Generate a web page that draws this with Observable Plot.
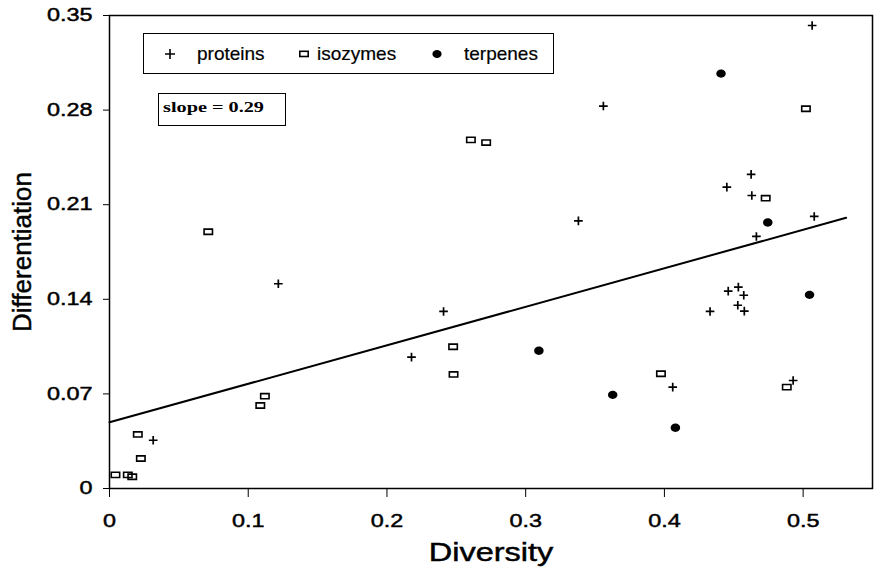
<!DOCTYPE html>
<html>
<head>
<meta charset="utf-8">
<script src="https://cdn.jsdelivr.net/npm/d3@7"></script>
<script src="https://cdn.jsdelivr.net/npm/@observablehq/plot@0.6"></script>
<style>
  body { margin: 0; background: #fff; }
  #wrap { position: relative; width: 878px; height: 569px; font-family: "Liberation Sans", Arial, sans-serif; color: #000; }
  #wrap svg { position: absolute; left: 0; top: 0; }
  #wrap svg text { stroke: #000; stroke-width: 0.45px; }
  .box { position: absolute; border: 1.5px solid #000; box-sizing: border-box; background: #fff; }
  .ltext { position: absolute; font-size: 19px; line-height: 20px; white-space: nowrap; -webkit-text-stroke: 0.2px #000; }
  .lsym { position: absolute; }
  .slope { position: absolute; font-family: "Liberation Serif", "Times New Roman", serif; font-weight: bold; font-size: 15px; line-height: 16px; white-space: nowrap; transform: scaleX(1.35); transform-origin: left center; }
</style>
</head>
<body>
<div id="wrap">
  <div class="box" style="left:143px;top:33px;width:411px;height:41px;"></div>
  <svg class="lsym" style="left:163px;top:47px" width="14" height="14"><path d="M2,7H12M7,2V12" stroke="#000" stroke-width="1.6"/></svg>
  <div class="ltext" style="left:197px;top:44px">proteins</div>
  <svg class="lsym" style="left:297px;top:47px" width="14" height="14"><rect x="2.8" y="4.3" width="8.4" height="5.2" fill="none" stroke="#000" stroke-width="1.6"/></svg>
  <div class="ltext" style="left:317px;top:44px">isozymes</div>
  <svg class="lsym" style="left:430px;top:47px" width="14" height="14"><ellipse cx="7" cy="7" rx="4.6" ry="4" fill="#000"/></svg>
  <div class="ltext" style="left:464px;top:44px">terpenes</div>
  <div class="box" style="left:158px;top:93px;width:128px;height:33px;"></div>
  <div class="slope" style="left:163px;top:99px">slope = 0.29</div>
</div>
<script>
// ---- data ----
const proteinsX = [0.0315, 0.1217, 0.2177, 0.2408, 0.338, 0.356, 0.406, 0.4329, 0.445, 0.446, 0.4533, 0.4572, 0.4529, 0.4576, 0.4625, 0.463, 0.4663, 0.4928, 0.5065, 0.508];
const proteinsY = [0.0357, 0.1515, 0.0972, 0.131, 0.198, 0.283, 0.075, 0.131, 0.223, 0.146, 0.149, 0.143, 0.1356, 0.1312, 0.2324, 0.2168, 0.1865, 0.0799, 0.3426, 0.2013];

const isozymesX = [0.0043, 0.0132, 0.0164, 0.0204, 0.0226, 0.0712, 0.1087, 0.112, 0.2477, 0.248, 0.2605, 0.2715, 0.3975, 0.473, 0.4882, 0.502];
const isozymesY = [0.0101, 0.0101, 0.0087, 0.040, 0.0222, 0.190, 0.0614, 0.0683, 0.1049, 0.0844, 0.258, 0.256, 0.0849, 0.2148, 0.075, 0.281];

const terpenesX = [0.3095, 0.3627, 0.4079, 0.4408, 0.4745, 0.5046];
const terpenesY = [0.1019, 0.0693, 0.0449, 0.307, 0.1968, 0.1433];

const fitX = [0, 0.531];
const fitY = [0.049, 0.2003];

const xTicks = [0, 0.1, 0.2, 0.3, 0.4, 0.5];
const xTickLabels = ["0", "0.1", "0.2", "0.3", "0.4", "0.5"];
const yTicks = [0, 0.07, 0.14, 0.21, 0.28, 0.35];
const yTickLabels = ["0", "0.07", "0.14", "0.21", "0.28", "0.35"];

const xTitle = "Diversity";
const yTitle = "Differentiation";

// ---- build tables ----
const zip = (xs, ys) => xs.map((x, i) => ({x, y: ys[i]}));
const proteins = zip(proteinsX, proteinsY);
const isozymes = zip(isozymesX, isozymesY);
const terpenes = zip(terpenesX, terpenesY);
const fit = zip(fitX, fitY);

const boxSymbol = { draw(ctx) { const w = 8.4, h = 5.2; ctx.rect(-w / 2, -h / 2, w, h); } };
const ovalSymbol = { draw(ctx) {
  const rx = 4.75, ry = 4.2, k = 0.5523;
  ctx.moveTo(rx, 0);
  ctx.bezierCurveTo(rx, ry * k, rx * k, ry, 0, ry);
  ctx.bezierCurveTo(-rx * k, ry, -rx, ry * k, -rx, 0);
  ctx.bezierCurveTo(-rx, -ry * k, -rx * k, -ry, 0, -ry);
  ctx.bezierCurveTo(rx * k, -ry, rx, -ry * k, rx, 0);
  ctx.closePath();
} };

const chart = Plot.plot({
  width: 878,
  height: 569,
  marginLeft: 109,
  marginRight: 6,
  marginTop: 15,
  marginBottom: 81,
  style: { fontFamily: "'Liberation Sans', Arial, sans-serif", fontSize: "18px", color: "#000", background: "transparent", overflow: "visible" },
  x: { domain: [0, 0.55], ticks: xTicks, tickFormat: d => xTickLabels[xTicks.indexOf(d)], tickSize: 9, tickPadding: 17, label: null },
  y: { domain: [0, 0.35], ticks: yTicks, tickFormat: d => yTickLabels[yTicks.indexOf(d)], tickSize: 6, tickPadding: 11, label: null },
  marks: [
    Plot.frame({ stroke: "#000", strokeWidth: 1.5 }),
    Plot.line(fit, { x: "x", y: "y", stroke: "#000", strokeWidth: 2 }),
    Plot.dot(proteins, { x: "x", y: "y", symbol: "plus", r: 2.9, stroke: "#000", strokeWidth: 1.7 }),
    Plot.dot(isozymes, { x: "x", y: "y", symbol: boxSymbol, r: 3, fill: "none", stroke: "#000", strokeWidth: 1.6 }),
    Plot.dot(terpenes, { x: "x", y: "y", symbol: ovalSymbol, r: 3, fill: "#000", stroke: "none" }),
    Plot.text([xTitle], { frameAnchor: "bottom", dy: 64, fontSize: 25, textAnchor: "middle", lineAnchor: "middle", text: d => d }),
    Plot.text([yTitle], { frameAnchor: "left", dx: -87, rotate: -90, fontSize: 26, textAnchor: "middle", lineAnchor: "middle", text: d => d })
  ]
});

const wrap = document.getElementById("wrap");
wrap.prepend(chart);
// horizontal stretch of the glyphs, as in the scanned original
chart.querySelectorAll("text").forEach(t => {
  if (t.textContent === yTitle) return;
  const w = t.getComputedTextLength();
  if (w > 0) {
    t.setAttribute("textLength", (w * 1.3).toFixed(1));
    t.setAttribute("lengthAdjust", "spacingAndGlyphs");
  }
});
</script>
</body>
</html>
